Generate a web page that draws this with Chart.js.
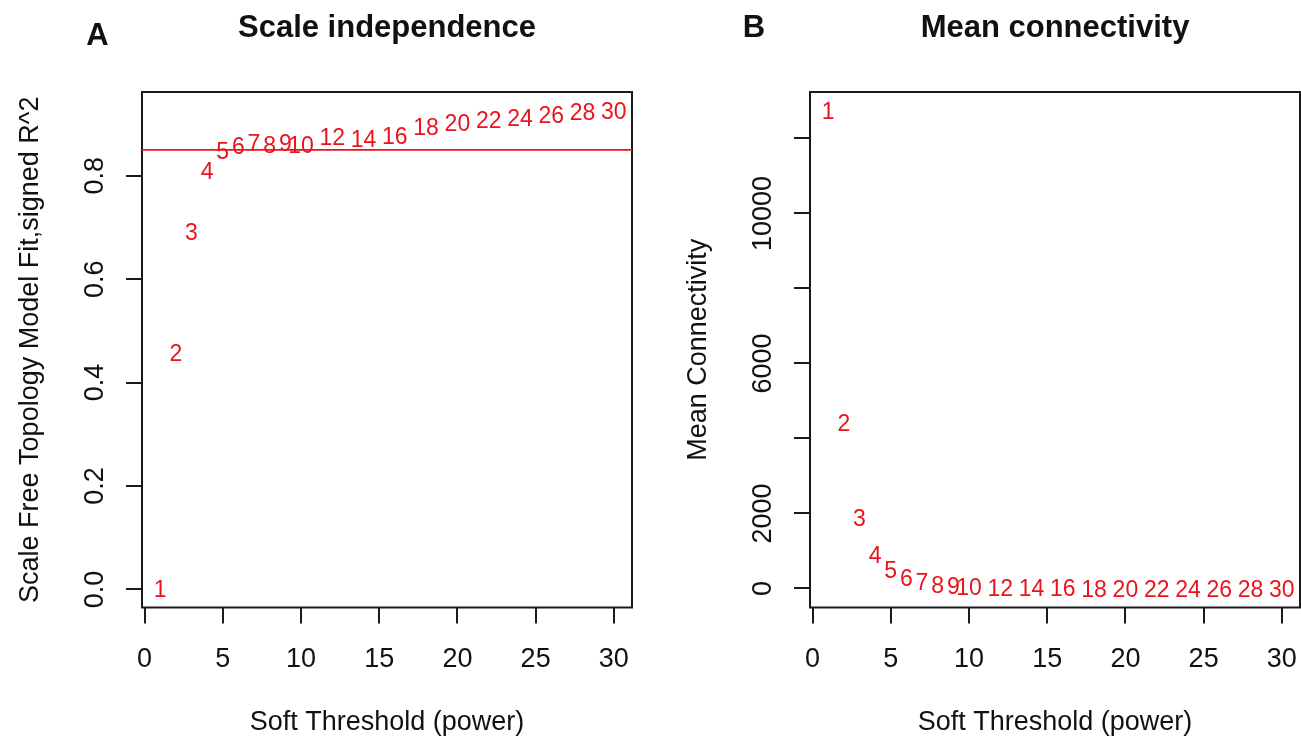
<!DOCTYPE html>
<html><head><meta charset="utf-8">
<script src="https://cdn.jsdelivr.net/npm/chart.js@4.4.1/dist/chart.umd.min.js"></script>
<style>
html,body{margin:0;padding:0;background:#fff;overflow:hidden;width:1301px;height:736px;}
canvas{position:absolute;top:0;}
#cA{left:0px}
#cB{left:668px}
</style></head><body>
<canvas id="cA" width="660" height="736"></canvas>
<canvas id="cB" width="660" height="736"></canvas>
<script>
// ---- data ----
const powers = [1,2,3,4,5,6,7,8,9,10,12,14,16,18,20,22,24,26,28,30];
const scaleFitR2 = [0.002,0.458,0.692,0.809,0.848,0.859,0.864,0.861,0.864,0.861,0.876,0.871,0.877,0.894,0.903,0.908,0.913,0.919,0.923,0.925];
const meanConnectivity = [12729,4415,1895,900,500,277,187,99,72,53,28,16,10,6.5,4.5,3.2,2.4,1.8,1.4,1.1];
const xTicks = [0,5,10,15,20,25,30];
const yTicksA = [0,0.2,0.4,0.6,0.8];
const yTickLabelsA = ['0.0','0.2','0.4','0.6','0.8'];
const yTicksB = [0,2000,4000,6000,8000,10000,12000];
const yTickLabelsB = ['0','2000','','6000','','10000',''];
const cutoffR2 = 0.85;
const titleA = 'Scale independence';
const titleB = 'Mean connectivity';
const xTitle = 'Soft Threshold (power)';
const yTitleA = 'Scale Free Topology Model Fit,signed R^2';
const yTitleB = 'Mean Connectivity';

const FONT = '"Liberation Sans", Arial, Helvetica, sans-serif';
const RED = '#e8141c';
const INK = '#111111';
Chart.defaults.font.family = FONT;
Chart.defaults.color = INK;

// R-style 4% axis extension
function rRange(arr){
  const mn = Math.min(...arr), mx = Math.max(...arr), d = (mx - mn) * 0.04;
  return [mn - d, mx + d];
}

const panelPlugin = {
  id: 'panel',
  afterDraw(chart, args, o) {
    const ctx = chart.ctx, ca = chart.chartArea;
    ctx.save();
    // box
    ctx.strokeStyle = '#1a1a1a'; ctx.lineWidth = 2;
    ctx.strokeRect(ca.left, ca.top, ca.right - ca.left, ca.bottom - ca.top);
    // cutoff line
    if (o.cutoff !== undefined) {
      const py = chart.scales.y.getPixelForValue(o.cutoff);
      ctx.strokeStyle = RED; ctx.lineWidth = 1.6;
      ctx.beginPath(); ctx.moveTo(ca.left, py); ctx.lineTo(ca.right, py); ctx.stroke();
    }
    // point labels (text at each data point)
    const meta = chart.getDatasetMeta(0);
    const ds = chart.data.datasets[0].data;
    ctx.fillStyle = RED; ctx.font = '23px ' + FONT;
    ctx.textAlign = 'center'; ctx.textBaseline = 'middle';
    meta.data.forEach((pt, i) => ctx.fillText(String(ds[i].x), pt.x, pt.y + 2));
    // rotated y tick labels
    ctx.fillStyle = INK; ctx.font = '27px ' + FONT;
    const ys = chart.scales.y;
    o.yTicks.forEach((v, i) => {
      const txt = o.yLabels[i];
      if (!txt) return;
      const py = ys.getPixelForValue(v);
      ctx.save(); ctx.translate(o.yLabelX, py); ctx.rotate(-Math.PI/2);
      ctx.fillText(txt, 0, 0); ctx.restore();
    });
    // title
    ctx.font = 'bold 31px ' + FONT; ctx.textBaseline = 'alphabetic'; ctx.textAlign = 'center';
    ctx.fillText(o.title, (ca.left + ca.right) / 2, 37);
    // panel letter
    ctx.fillText(o.letter, o.letterX, o.letterY);
    ctx.restore();
  }
};

function makeChart(id, yVals, yTicks, yLabels, yTitle, title, letter, letterX, letterY, cutoff) {
  const xr = rRange(powers), yr = rRange(yVals);
  return new Chart(document.getElementById(id), {
    type: 'scatter',
    data: { datasets: [{ data: powers.map((p, i) => ({x: p, y: yVals[i]})), pointRadius: 0, showLine: false }] },
    options: {
      responsive: false, animation: false, devicePixelRatio: 1, events: [],
      layout: { padding: { top: 92, right: 28, left: 0, bottom: 0 } },
      plugins: {
        legend: { display: false }, tooltip: { enabled: false },
        panel: { yTicks, yLabels, yLabelX: 96, title, letter, letterX, letterY, cutoff }
      },
      scales: {
        x: {
          type: 'linear', min: xr[0], max: xr[1],
          afterBuildTicks: s => { s.ticks = xTicks.map(v => ({value: v})); },
          afterFit: s => { s.height = 128.5; },
          grid: { display: true, drawOnChartArea: false, drawTicks: true, tickLength: 16, color: '#1a1a1a', lineWidth: 2 },
          border: { display: false },
          ticks: { autoSkip: false, maxRotation: 0, minRotation: 0, padding: 20, color: INK,
                   font: { size: 27, lineHeight: 1.2 }, callback: v => String(v) },
          title: { display: true, text: xTitle, color: INK, font: { size: 27, lineHeight: 1.2 }, padding: { top: 0, bottom: -3 } }
        },
        y: {
          type: 'linear', min: yr[0], max: yr[1],
          afterBuildTicks: s => { s.ticks = yTicks.map(v => ({value: v})); },
          afterFit: s => { s.width = 142; },
          grid: { display: true, drawOnChartArea: false, drawTicks: true, tickLength: 16, color: '#1a1a1a', lineWidth: 2 },
          border: { display: false },
          ticks: { display: false },
          title: { display: true, text: yTitle, color: INK, font: { size: 27, lineHeight: 1.2 }, padding: { top: 14, bottom: 0 } }
        }
      }
    },
    plugins: [panelPlugin]
  });
}

makeChart('cA', scaleFitR2, yTicksA, yTickLabelsA, yTitleA, titleA, 'A', 97.5, 45, cutoffR2);
makeChart('cB', meanConnectivity, yTicksB, yTickLabelsB, yTitleB, titleB, 'B', 86, 37, undefined);
</script>
</body></html>
